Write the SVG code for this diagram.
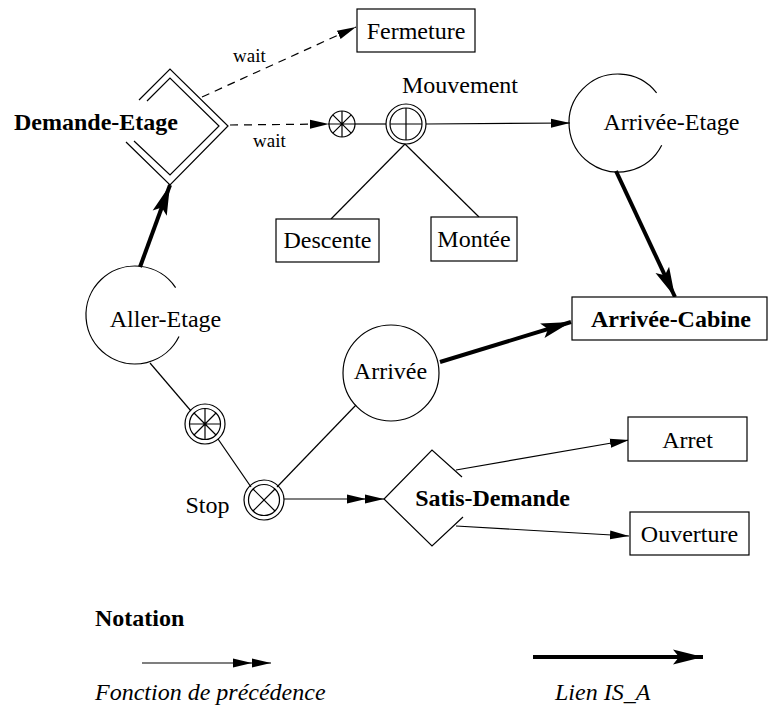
<svg xmlns="http://www.w3.org/2000/svg" width="768" height="711" viewBox="0 0 768 711">
  <style>
    text { font-family: "Liberation Serif", "DejaVu Serif", serif; font-size: 24px; fill: #000; }
    .b { font-weight: bold; }
    .i { font-style: italic; }
    .small { font-size: 19px; }
    .mid { text-anchor: middle; }
    .shape { fill: none; stroke: #000; stroke-width: 1.2; }
    .box { fill: #fff; stroke: #000; stroke-width: 1.2; }
    .prec { fill: none; stroke: #000; stroke-width: 1.2; marker-end: url(#head); }
    .prec2 { fill: none; stroke: #000; stroke-width: 1.2; marker-mid: url(#head); marker-end: url(#head); }
    .plain { fill: none; stroke: #000; stroke-width: 1.2; }
    .dash { fill: none; stroke: #000; stroke-width: 1.2; stroke-dasharray: 8 6; marker-end: url(#head); }
    .isa { fill: none; stroke: #000; stroke-width: 4; marker-end: url(#isahead); }
  </style>
  <defs>
    <marker id="head" markerUnits="userSpaceOnUse" viewBox="0 0 19 10" refX="19" refY="5" markerWidth="19" markerHeight="10" orient="auto">
      <path d="M0,0.5 L19,5 L0,9.5 Z" fill="#000"/>
    </marker>
    <marker id="isahead" markerUnits="userSpaceOnUse" viewBox="0 0 30 16" refX="30" refY="8" markerWidth="30" markerHeight="16" orient="auto">
      <path d="M0,0.5 L30,8 L0,15.5 L6,8 Z" fill="#000"/>
    </marker>
  </defs>

  <!-- connectors -->
  <g id="connectors">
    <path class="dash" d="M202,97 L356,27"/>
    <path class="dash" d="M230,125 L329,124"/>
    <path class="plain" d="M355,124 L386,124"/>
    <path class="prec" d="M426,124 L570,123"/>
    <path class="plain" d="M405,144 L331,219"/>
    <path class="plain" d="M405,144 L479,217"/>
    <path class="isa" d="M616,171 L675,297"/>
    <path class="isa" d="M140,267 L170,185"/>
    <path class="isa" d="M440,362 L571,322"/>
    <path class="plain" d="M150,363 L191,411"/>
    <path class="plain" d="M218,439 L251,487"/>
    <path class="plain" d="M277,487 L356,405"/>
    <polyline class="prec2" points="284,499 366,499 384,499"/>
    <path class="prec" d="M456,470 L629,440"/>
    <path class="prec" d="M456,526 L629,536"/>
  </g>

  <!-- Demande-Etage -->
  <g id="demande-etage">
    <path class="shape" d="M139,100 L170,69 L228,126 L170,185 L126,142"/>
    <path class="shape" d="M147,101 L170,78 L219,126 L170,175 L134,141"/>
    <text class="b" x="14" y="130">Demande-Etage</text>
  </g>

  <g id="wait-labels">
    <text class="small" x="233" y="62">wait</text>
    <text class="small" x="253" y="147">wait</text>
  </g>

  <!-- Fermeture -->
  <g id="fermeture">
    <rect class="box" x="357" y="9" width="118" height="43"/>
    <text class="mid" x="416" y="39">Fermeture</text>
  </g>

  <!-- sequence connector -->
  <g id="seq-junction">
    <circle class="shape" cx="342" cy="124" r="13"/>
    <path class="shape" d="M329,124 H355 M342,111 V137 M332.8,114.8 L351.2,133.2 M351.2,114.8 L332.8,133.2"/>
  </g>

  <!-- Mouvement -->
  <g id="mouvement">
    <circle class="shape" cx="406" cy="124" r="20"/>
    <circle class="shape" cx="406" cy="124" r="16"/>
    <path class="shape" d="M390,124 H422 M406,108 V140"/>
    <text x="402" y="93">Mouvement</text>
  </g>

  <!-- Descente -->
  <g id="descente">
    <rect class="box" x="276" y="219" width="103" height="43"/>
    <text class="mid" x="327.5" y="248">Descente</text>
  </g>

  <!-- Montee -->
  <g id="montee">
    <rect class="box" x="431" y="217" width="86" height="44"/>
    <text class="mid" x="474" y="247">Montée</text>
  </g>

  <!-- Arrivee-Etage -->
  <g id="arrivee-etage">
    <path class="shape" d="M661.7,145.2 A49,49 0 1 1 656.6,92.8"/>
    <text class="mid" x="671.5" y="130">Arrivée-Etage</text>
  </g>

  <!-- Arrivee-Cabine -->
  <g id="arrivee-cabine">
    <rect class="box" x="572" y="297" width="195" height="43"/>
    <text class="b mid" x="671" y="327">Arrivée-Cabine</text>
  </g>

  <!-- Aller-Etage -->
  <g id="aller-etage">
    <path class="shape" d="M179,336.5 A49,49 0 1 1 175.6,287.6"/>
    <text class="mid" x="165.5" y="327">Aller-Etage</text>
  </g>

  <!-- parallel junction -->
  <g id="par-junction">
    <circle class="shape" cx="205" cy="424" r="20"/>
    <circle class="shape" cx="205" cy="424" r="15.5"/>
    <path class="shape" d="M189.5,424 H220.5 M205,408.5 V439.5 M194,413 L216,435 M216,413 L194,435"/>
  </g>

  <!-- Stop -->
  <g id="stop">
    <circle class="shape" cx="264" cy="500" r="20"/>
    <circle class="shape" cx="264" cy="500" r="15.5"/>
    <path class="shape" d="M253,489 L275,511 M275,489 L253,511"/>
    <text class="mid" x="207.5" y="513">Stop</text>
  </g>

  <!-- Arrivee -->
  <g id="arrivee">
    <circle class="shape" cx="391" cy="373" r="48"/>
    <text class="mid" x="390.5" y="379">Arrivée</text>
  </g>

  <!-- Satis-Demande -->
  <g id="satis-demande">
    <path class="shape" d="M462,477 L432,450 L384,499 L432,546 L463,517"/>
    <text class="b mid" x="492.5" y="506">Satis-Demande</text>
  </g>

  <!-- Arret -->
  <g id="arret">
    <rect class="box" x="628" y="417" width="119" height="44"/>
    <text class="mid" x="687.5" y="448">Arret</text>
  </g>

  <!-- Ouverture -->
  <g id="ouverture">
    <rect class="box" x="630" y="512" width="119" height="43"/>
    <text class="mid" x="689.5" y="542">Ouverture</text>
  </g>

  <!-- legend -->
  <g id="notation">
    <text class="b" x="95" y="626">Notation</text>
    <polyline class="prec2" points="142,663 252,663 271,663"/>
    <text class="i" x="95" y="700">Fonction de précédence</text>
    <path class="isa" d="M533,657 L703,657"/>
    <text class="i" x="555" y="700">Lien IS_A</text>
  </g>
</svg>
